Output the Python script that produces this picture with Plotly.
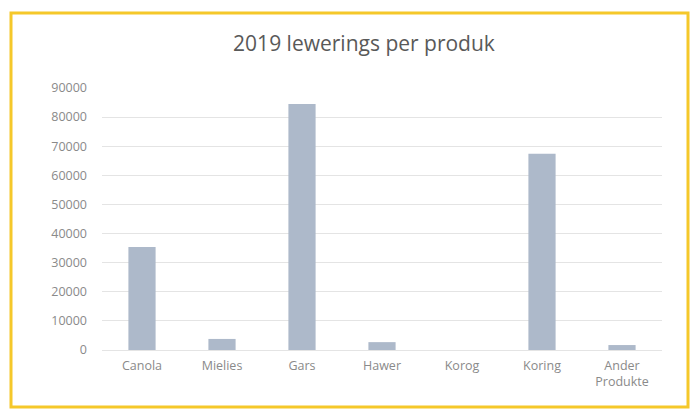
import plotly.graph_objects as go

categories = ["Canola", "Mielies", "Gars", "Hawer", "Korog", "Koring", "Ander<br>Produkte"]
values = [35400, 3800, 84500, 2700, 0, 67400, 1700]
tick_vals = [0, 10000, 20000, 30000, 40000, 50000, 60000, 70000, 80000, 90000]
tick_text = [str(v) for v in tick_vals]

W, H = 691, 409
L, R, T, B = 102, 29, 88, 59
pw, ph = W - L - R, H - T - B

def px(x):
    return (x - L) / pw

def py(y):
    return (H - B - y) / ph

fig = go.Figure(go.Bar(x=categories, y=values, marker_color="#adb9ca", marker_line_width=0))

fig.update_layout(
    width=W, height=H,
    margin=dict(l=L, r=R, t=T, b=B),
    paper_bgcolor="white", plot_bgcolor="white",
    bargap=0.66,
    showlegend=False,
    font=dict(family="Open Sans", color="#7f7f7f", size=12),
    title=dict(text="2019 lewerings per produk", x=364 / W, xanchor="center",
               y=1 - 44 / H, yanchor="middle",
               font=dict(family="Open Sans", size=21, color="#595959")),
    shapes=[dict(type="rect", xref="paper", yref="paper",
                 x0=px(11), x1=px(688), y0=py(407), y1=py(13),
                 line=dict(color="#f5c82a", width=3), fillcolor="rgba(0,0,0,0)")],
)
fig.update_yaxes(range=[0, 90000], tickvals=tick_vals, ticktext=tick_text,
                 showgrid=True, gridcolor="#e4e4e4", gridwidth=1, zeroline=False,
                 showline=False, ticks="", ticklabelstandoff=14,
                 tickfont=dict(size=12.5, color="#8a8a8a"))
fig.update_xaxes(showgrid=False, showline=True, linecolor="#e4e4e4", ticks="",
                 ticklabelstandoff=4,
                 tickfont=dict(size=12.5, color="#8a8a8a"))

fig.write_html("out.html", config={"displayModeBar": False},
               post_script="document.body.style.margin='0';")
